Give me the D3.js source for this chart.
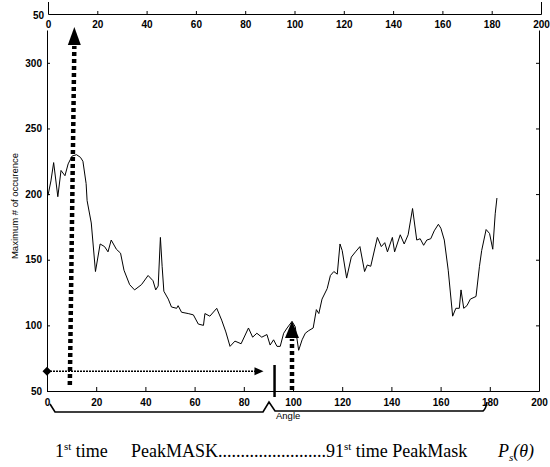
<!DOCTYPE html>
<html>
<head>
<meta charset="utf-8">
<script src="https://cdn.jsdelivr.net/npm/d3@7"></script>
<style>
  html, body { margin: 0; padding: 0; background: #fff; }
  svg { display: block; }
  .tick text { font-family: "Liberation Sans", Arial, sans-serif; font-size: 10px; font-weight: bold; fill: #000; }
  .domain, .tick line { stroke: #000; }
</style>
</head>
<body>
<svg id="chart" width="550" height="467"></svg>
<script>
// ---- data ----
const angles = [0.4,1.6,2.7,4.4,5.7,7.3,8.6,10.2,12.0,13.6,
  14.6,15.9,16.3,18.0,19.7,21.6,23.4,24.8,26.1,28.2,
  29.9,31.3,33.6,35.6,38.4,41.1,43.1,44.2,45.2,46.1,
  46.8,47.5,49.3,50.6,52.7,53.3,54.7,57.4,59.5,61.5,
  63.6,64.2,66.2,69.0,71.0,72.7,74.4,76.4,78.9,81.9,
  83.6,85.3,87.3,89.4,90.7,92.1,93.5,94.8,96.2,97.6,
  99.6,100.9,102.3,103.7,105.0,106.4,108.2,109.5,110.5,111.8,
  113.9,115.2,116.6,118.0,119.1,120.0,121.8,123.7,125.4,127.2,
  129.1,130.2,131.6,134.3,135.9,137.3,138.4,140.4,141.3,143.6,
  145.2,146.8,148.6,150.3,151.7,153.1,154.4,156.0,157.4,159.1,
  160.1,161.5,163.1,164.9,166.2,167.6,168.3,169.4,170.7,172.1,
  174.4,175.8,176.7,178.5,179.9,181.2,182.2,182.9];
const occurrences = [199,210,224,198,218,214,223,229,230,228,
  225,208,195,178,141,162,160,156,165,158,
  155,142,131,127,131,138,134,127,130,167,
  145,126,120,114,113,115,110,109,108,101,
  100,109,107,113,104,95,84,88,86,98,
  91,94,91,93,85,89,84,84,94,98,
  103,99,81,89,94,96,98,112,109,120,
  128,138,141,139,162,157,136,152,156,160,
  141,146,145,167,160,163,156,167,156,169,
  162,169,189,165,166,161,165,166,172,177,
  174,165,142,107,113,113,127,113,115,120,
  122,145,157,173,170,158,185,197];
const xTicks = [0,20,40,60,80,100,120,140,160,180,200];
const yTicks = [50,100,150,200,250,300];
const yLabel = "Maximum # of occurence";
const xLabel = "Angle";
const topStubLabel = "50";
// annotation anchor values (data units)
const bigArrowAngle = 10.5, smallArrowAngle = 100, barAngle = 92.5;
const horizArrowValue = 65, horizArrowEnd = 88;

// ---- layout ----
const svg = d3.select("#chart");
const x = d3.scaleLinear().domain([0, 200]).range([47, 539]);
const y = d3.scaleLinear().domain([50, 325]).range([391, 30]);
const xTop = d3.scaleLinear().domain([0, 200]).range([48, 541]);

// top stub axis (remnant of the figure above)
svg.append("g").attr("transform", "translate(0,14)")
  .call(d3.axisBottom(xTop).tickValues(xTicks).tickSizeInner(-3).tickSizeOuter(-12).tickPadding(7))
  .call(g => g.selectAll(".tick text").attr("dy", "0.71em"));
svg.append("text").attr("x", 44).attr("y", 19).attr("text-anchor", "end")
  .style("font-family", "Liberation Sans, Arial, sans-serif").style("font-size", "10px").style("font-weight", "bold")
  .text(topStubLabel);

// main axes
svg.append("g").attr("transform", "translate(0,391)")
  .call(d3.axisBottom(x).tickValues(xTicks).tickSizeInner(-4).tickSizeOuter(0).tickPadding(8));
svg.append("g").attr("transform", "translate(47,0)")
  .call(d3.axisLeft(y).tickValues(yTicks).tickSizeInner(-3).tickSizeOuter(0).tickPadding(5));
svg.append("g").attr("transform", "translate(539,0)")
  .call(d3.axisRight(y).tickValues(yTicks).tickSizeInner(-3).tickSizeOuter(0).tickFormat(""));

// y label
svg.append("text").attr("transform", "translate(15,206) rotate(-90)")
  .attr("text-anchor", "middle").attr("dy", "0.35em")
  .style("font-family", "Liberation Sans, Arial, sans-serif").style("font-size", "9.5px")
  .text(yLabel);

// data line
const pts = angles.map((a, i) => [a, occurrences[i]]);
svg.append("path").datum(pts)
  .attr("fill", "none").attr("stroke", "#000").attr("stroke-width", 1)
  .attr("d", d3.line().x(d => x(d[0])).y(d => y(d[1])));

// big dotted arrow
const bx = x(bigArrowAngle);
svg.append("line").attr("x1", bx - 3).attr("y1", 385).attr("x2", bx + 1.5).attr("y2", 46)
  .attr("stroke", "#000").attr("stroke-width", 4.5).attr("stroke-dasharray", "4,3");
svg.append("path").attr("d", `M${bx + 1.5},27 L${bx + 8},45 L${bx - 5},45 Z`).attr("fill", "#000");

// horizontal dotted arrow with diamond
const hy = y(horizArrowValue);
svg.append("line").attr("x1", 47).attr("y1", hy).attr("x2", x(horizArrowEnd) - 7).attr("y2", hy)
  .attr("stroke", "#000").attr("stroke-width", 1.4).attr("stroke-dasharray", "2,1");
svg.append("path").attr("d", `M${x(horizArrowEnd)},${hy} L${x(horizArrowEnd) - 9},${hy - 4} L${x(horizArrowEnd) - 9},${hy + 4} Z`).attr("fill", "#000");
svg.append("path").attr("d", `M47,${hy - 4.5} L51.5,${hy} L47,${hy + 4.5} L42.5,${hy} Z`).attr("fill", "#000");

// vertical bar
svg.append("line").attr("x1", x(barAngle)).attr("x2", x(barAngle)).attr("y1", 365).attr("y2", 397)
  .attr("stroke", "#000").attr("stroke-width", 2.5);

// small dotted arrow at 100
const sx = x(smallArrowAngle);
svg.append("line").attr("x1", sx - 1).attr("y1", 390).attr("x2", sx - 1).attr("y2", 339)
  .attr("stroke", "#000").attr("stroke-width", 4.5).attr("stroke-dasharray", "4,3");
svg.append("path").attr("d", `M${sx - 1},321 L${sx + 6},338 L${sx - 8},338 Z`).attr("fill", "#000");

// bracket below axis
svg.append("path")
  .attr("d", "M50,404 L55,412 L263,412 L269,402 L275,411 L483,411 Q486,409 487,402")
  .attr("fill", "none").attr("stroke", "#000").attr("stroke-width", 1.6);

svg.append("text").attr("x", 276).attr("y", 419)
  .style("font-family", "Liberation Sans, Arial, sans-serif").style("font-size", "9.5px")
  .text(xLabel);

// caption row
const serif = "Liberation Serif, 'Times New Roman', serif";
const t1 = svg.append("text").attr("x", 55).attr("y", 457).style("font-family", serif).style("font-size", "18px");
t1.append("tspan").text("1");
t1.append("tspan").attr("dy", -7).style("font-size", "11px").text("st");
t1.append("tspan").attr("dy", 7).text(" time");

const t2 = svg.append("text").attr("x", 131).attr("y", 457).style("font-family", serif).style("font-size", "18px");
t2.append("tspan").text("PeakMASK" + ".".repeat(24) + "91");
t2.append("tspan").attr("dy", -7).style("font-size", "11px").text("st");
t2.append("tspan").attr("dy", 7).text(" time PeakMask");

const t3 = svg.append("text").attr("x", 498).attr("y", 457).style("font-family", serif).style("font-size", "18px").style("font-style", "italic");
t3.append("tspan").text("P");
t3.append("tspan").attr("dy", 4).style("font-size", "11px").text("s");
t3.append("tspan").attr("dy", -4).text("(θ)");
</script>
</body>
</html>
